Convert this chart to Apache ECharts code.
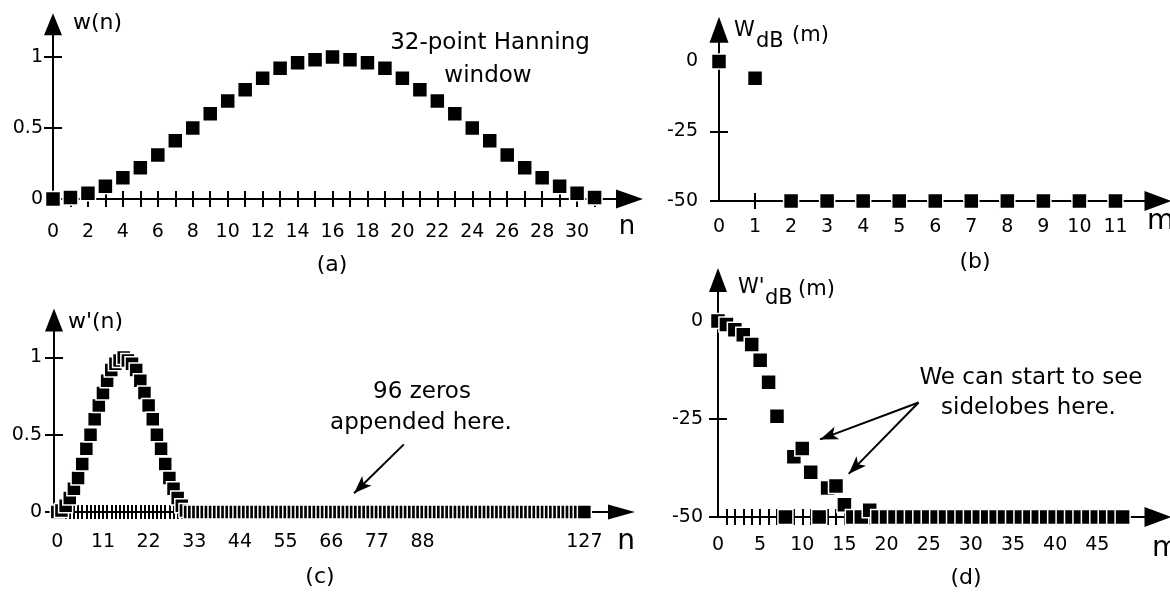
<!DOCTYPE html>
<html>
<head>
<meta charset="utf-8">
<script src="https://cdn.jsdelivr.net/npm/echarts@6/dist/echarts.min.js"></script>
<style>
html,body{margin:0;padding:0;background:#fff;}
#chart{width:1170px;height:592px;}
</style>
</head>
<body>
<div id="chart"></div>
<script>
// ---------------- DATA ----------------
// (a) 32-point Hanning window w(n), n = 0..31
const windowW = [0, 0.01, 0.04, 0.09, 0.15, 0.22, 0.31, 0.41, 0.5, 0.6, 0.69, 0.77, 0.85, 0.92, 0.96, 0.98,
                 1.0, 0.98, 0.96, 0.92, 0.85, 0.77, 0.69, 0.6, 0.5, 0.41, 0.31, 0.22, 0.15, 0.09, 0.04, 0.01];
// (c) 96 zeros appended (n = 32..127)
const appendedZeros = [0,0,0,0,0,0,0,0,0,0,0,0,0,0,0,0,0,0,0,0,0,0,0,0,
                       0,0,0,0,0,0,0,0,0,0,0,0,0,0,0,0,0,0,0,0,0,0,0,0,
                       0,0,0,0,0,0,0,0,0,0,0,0,0,0,0,0,0,0,0,0,0,0,0,0,
                       0,0,0,0,0,0,0,0,0,0,0,0,0,0,0,0,0,0,0,0,0,0,0,0];
// (b) W_dB(m), m = 0..11 (clipped at -50 dB)
const specB = [0, -6.0, -50, -50, -50, -50, -50, -50, -50, -50, -50, -50];
// (d) W'_dB(m), m = 0..48 (clipped at -50 dB)
const specD = [0, -0.9, -2.2, -3.5, -6.0, -10.0, -15.6, -24.3, -50, -34.6, -32.5, -38.6, -50, -42.6, -42.1, -46.9,
               -50, -50, -48.3, -50, -50, -50, -50, -50, -50, -50, -50, -50, -50, -50, -50, -50,
               -50, -50, -50, -50, -50, -50, -50, -50, -50, -50, -50, -50, -50, -50, -50, -50, -50];

// tick labels
const xLabelsA = [0, 2, 4, 6, 8, 10, 12, 14, 16, 18, 20, 22, 24, 26, 28, 30];
const yLabelsA = [0, 0.5, 1];
const xLabelsB = [0, 1, 2, 3, 4, 5, 6, 7, 8, 9, 10, 11];
const yLabelsB = [-50, -25, 0];
const xLabelsC = [0, 11, 22, 33, 44, 55, 66, 77, 88, 127];
const yLabelsC = [0, 0.5, 1];
const xLabelsD = [0, 5, 10, 15, 20, 25, 30, 35, 40, 45];
const yLabelsD = [-50, -25, 0];

// annotation arrows (data coordinates of their panels)
const arrowC = [[83.5, 0.438], [71.5, 0.121]];
const arrowsD = [[[23.8, -20.8], [12.1, -30.2]], [[23.8, -20.8], [15.5, -39.0]]];

// ---------------- BUILD ----------------
const BLACK = '#000';
const FONT = 'DejaVu Sans';
function intRange(a, b) { const r = []; for (let i = a; i <= b; i++) r.push(i); return r; }

function axisPair(kind, gridIndex, min, max, labels, ticks, cfg) {
  const pos = kind === 'x' ? 'bottom' : 'left';
  const tickStyle = { color: BLACK, width: 2 };
  const main = {
    type: 'value', gridIndex: gridIndex, min: min, max: max, position: pos,
    axisLine: { show: true, onZero: false, symbol: ['none', 'triangle'], symbolSize: cfg.arrow,
                lineStyle: { color: BLACK, width: 2 } },
    axisTick: { show: true, inside: false, length: cfg.tick, customValues: ticks, lineStyle: tickStyle },
    axisLabel: { show: true, customValues: labels, margin: cfg.margin, color: BLACK,
                 fontFamily: FONT, fontSize: 19, formatter: function (v) { return String(v); } },
    splitLine: { show: false }
  };
  const mirror = {
    type: 'value', gridIndex: gridIndex, min: min, max: max, position: pos,
    axisLine: { show: false, onZero: false },
    axisTick: { show: true, inside: true, length: cfg.tick, customValues: ticks, lineStyle: tickStyle },
    axisLabel: { show: false },
    splitLine: { show: false }
  };
  return [main, mirror];
}

const grids = [
  { left: 53,  top: 24.3, width: 576.5, height: 174.7 },
  { left: 719, top: 29.7, width: 439,   height: 171.3 },
  { left: 54,  top: 320,  width: 567.5, height: 192 },
  { left: 718, top: 280,  width: 440,   height: 237 }
].map(g => Object.assign({ containLabel: false, outerBoundsMode: 'none' }, g));

const xAxes = [].concat(
  axisPair('x', 0, 0, 33, xLabelsA, intRange(1, 31), { arrow: [19, 27], tick: 8, margin: 24 }),
  axisPair('x', 1, 0, 12.18, xLabelsB, intRange(1, 11), { arrow: [20, 27], tick: 8, margin: 17 }),
  axisPair('x', 2, -0.8, 135.95, xLabelsC, intRange(1, 127), { arrow: [15, 27], tick: 7, margin: 21 }),
  axisPair('x', 3, 0, 52.2, xLabelsD, intRange(1, 48), { arrow: [20, 27], tick: 8, margin: 19 })
);
const yAxes = [].concat(
  axisPair('y', 0, 0, 1.23, yLabelsA, [0.5, 1], { arrow: [18, 22], tick: 9, margin: 10 }),
  axisPair('y', 1, -50, 11.4, yLabelsB, [-50, -25], { arrow: [19, 26], tick: 9, margin: 21 }),
  axisPair('y', 2, 0, 1.243, yLabelsC, [0, 0.5, 1], { arrow: [18, 23], tick: 9, margin: 12 }),
  axisPair('y', 3, -50, 10.46, yLabelsD, [-50, -25], { arrow: [18, 24], tick: 9, margin: 15 })
);

function markerSeries(panel, values, size) {
  return {
    type: 'scatter', xAxisIndex: panel * 2, yAxisIndex: panel * 2,
    data: values.map(function (v, i) { return [i, v]; }),
    symbol: 'rect', symbolSize: size, silent: true, z: 5,
    itemStyle: { color: BLACK, borderColor: '#fff', borderWidth: 1.5, opacity: 1 },
    emphasis: { disabled: true }
  };
}
function arrowLine(pair) {
  return [{ coord: pair[0], symbol: 'none' }, { coord: pair[1], symbol: 'arrow', symbolSize: [10, 18] }];
}
const markLineStyle = {
  silent: true, animation: false, symbol: ['none', 'arrow'], label: { show: false },
  lineStyle: { color: BLACK, width: 2, type: 'solid' }, emphasis: { disabled: true }
};

const seriesA = markerSeries(0, windowW, 15);
const seriesB = markerSeries(1, specB, 15);
const seriesC = markerSeries(2, windowW.concat(appendedZeros), 14);
seriesC.markLine = Object.assign({ data: [arrowLine(arrowC)] }, markLineStyle);
const seriesD = markerSeries(3, specD, 15);
seriesD.markLine = Object.assign({ data: arrowsD.map(arrowLine) }, markLineStyle);

const texts = [
  ['w(n)', 73, 23.5, 22, 'left'],
  ['32-point Hanning', 490, 43, 23, 'center'],
  ['window', 488, 76, 23, 'center'],
  ['(a)', 332, 265, 22, 'center'],
  ['n', 627, 227, 26, 'center'],
  ['W', 734, 30.5, 21, 'left'],
  ['dB', 756, 41.8, 21, 'left'],
  ['(m)', 792, 35.5, 21, 'left'],
  ['(b)', 975, 262, 22, 'center'],
  ['m', 1147, 221.7, 28, 'left'],
  ["w'(n)", 68, 322.5, 22, 'left'],
  ['(c)', 320, 577, 22, 'center'],
  ['n', 626, 541.7, 28, 'center'],
  ['96 zeros', 422, 392, 23, 'center'],
  ['appended here.', 421, 423, 23, 'center'],
  ["W'", 738, 288, 21, 'left'],
  ['dB', 765, 299, 21, 'left'],
  ['(m)', 798, 290, 21, 'left'],
  ['(d)', 966, 578, 22, 'center'],
  ['m', 1152, 549, 28, 'left'],
  ['We can start to see', 1031, 378, 23, 'center'],
  ['sidelobes here.', 1028.5, 408, 23, 'center']
];

const graphic = texts.map(function (t) {
  return {
    type: 'text', x: t[1], y: t[2], z: 10, silent: true,
    style: {
      text: t[0], fill: BLACK, font: t[3] + 'px "' + FONT + '"',
      fontSize: t[3], fontFamily: FONT,
      align: t[4], textAlign: t[4], verticalAlign: 'middle', textVerticalAlign: 'middle'
    }
  };
});

const chart = echarts.init(document.getElementById('chart'), null, { renderer: 'canvas' });
chart.setOption({
  animation: false,
  backgroundColor: '#fff',
  textStyle: { fontFamily: FONT, color: BLACK },
  grid: grids,
  xAxis: xAxes,
  yAxis: yAxes,
  series: [seriesA, seriesB, seriesC, seriesD],
  graphic: graphic
});
</script>
</body>
</html>
